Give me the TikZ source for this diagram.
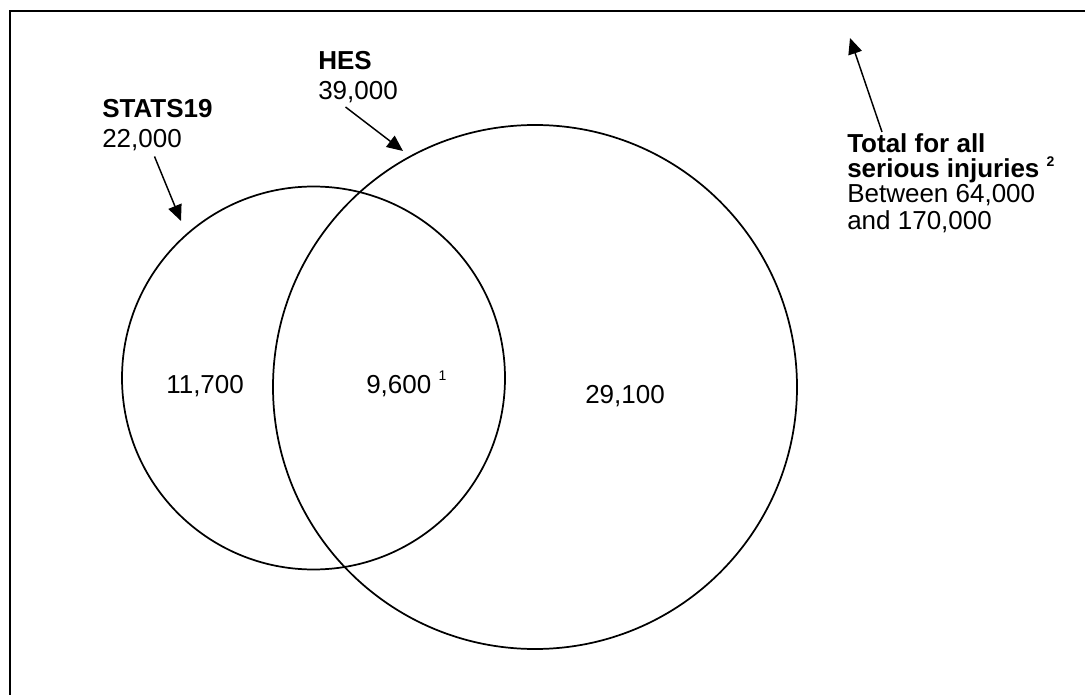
\documentclass[tikz,border=0pt]{standalone}
\usepackage{fontspec}
\setmainfont{Liberation Sans}
\usetikzlibrary{arrows.meta}
\begin{document}
\begin{tikzpicture}[x=0.75pt,y=-0.75pt,
  lbl/.style={anchor=base west,inner sep=0pt,font=\fontsize{19.5}{22}\selectfont},
  blbl/.style={lbl,font=\fontsize{19.5}{22}\selectfont\bfseries},
  ring/.style={draw,line width=1.3pt},
  pointer/.style={draw,line width=1.1pt,-{Triangle[length=12pt,width=10.5pt]}},
  frameline/.style={draw,line width=1.6pt}]
\useasboundingbox (0,0) rectangle (1085,695);
\draw[frameline] (1085,11) -- (10.3,11) -- (10.3,695);
% circles
\node[ring,circle,minimum size=383*0.75pt,inner sep=0pt] (stats) at (313.5,378) {};
\node[ring,circle,minimum size=524*0.75pt,inner sep=0pt] (hes) at (535,387) {};
% labels
\node[blbl] (statsname) at (102,118) {STATS19};
\node[lbl] (statsnum) at (102,148) {22,000};
\node[blbl] (hesname) at (318,70) {HES};
\node[lbl] (hesnum) at (318,100) {39,000};
\node[blbl] (tot1) at (847,153) {Total for all};
\node[blbl] (tot2) at (847,178) {serious injuries \raisebox{8.25pt}{\fontsize{10.5}{12}\selectfont 2}};
\node[lbl] (tot3) at (847,203) {Between 64,000};
\node[lbl] (tot4) at (847,230) {and 170,000};
\node[lbl] (onlystats) at (166,393) {11,700};
\node[lbl] (both) at (366,393) {9,600 \raisebox{9.5pt}{\fontsize{10.5}{12}\selectfont 1}};
\node[lbl] (onlyhes) at (585,403) {29,100};
% arrow end points
\coordinate (sTail) at (154.5,156.5);
\coordinate (sTip) at (181,221);
\coordinate (hTail) at (345.5,107);
\coordinate (hTip) at (403,151);
\coordinate (tTail) at (882,132);
\coordinate (tTip) at (850,38);
\draw[pointer] (sTail) -- (sTip);
\draw[pointer] (hTail) -- (hTip);
\draw[pointer] (tTail) -- (tTip);
\end{tikzpicture}
\end{document}
